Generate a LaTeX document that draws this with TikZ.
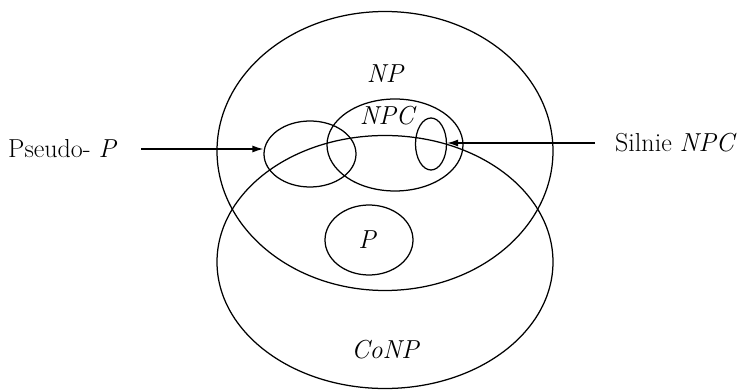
\documentclass[tikz,border=0pt]{standalone}
\usepackage{tikz}
\usetikzlibrary{arrows.meta, shapes.geometric}

\begin{document}
\begin{tikzpicture}[
  x=1pt, y=-1pt,
  set/.style={draw, ellipse, line width=1.25pt, inner sep=0pt},
  lbl/.style={font=\fontsize{26}{30}\selectfont\itshape},
  side/.style={font=\fontsize{26}{30}\selectfont, inner sep=2pt},
  arrow/.style={-{Latex[length=11pt, width=7pt]}, line width=1.25pt}
]
  \useasboundingbox (0,0) rectangle (756,390);

  % the two big classes
  \node[set, minimum width=336pt, minimum height=279pt] (np) at (385,151) {};
  \node[set, minimum width=336pt, minimum height=253pt] (conp) at (385,262) {};

  % the smaller sets
  \node[set, minimum width=136pt, minimum height=92pt] (npc) at (395,145) {};
  \node[set, minimum width=92pt, minimum height=66pt] (pseudoset) at (310,154) {};
  \node[set, minimum width=31pt, minimum height=52pt] (strong) at (431,144) {};
  \node[set, minimum width=88pt, minimum height=70pt] (p) at (369,240) {};

  % names of the sets
  \node[lbl] (nplbl) at (385,74) {NP};
  \node[lbl] (npclbl) at (387,116) {NPC};
  \node[lbl] (plbl) at (367,240) {P};
  \node[lbl] (conplbl) at (385,350) {CoNP};

  % side labels
  \node[side, anchor=west] (pseudo) at (6,149) {Pseudo- \textit{P}};
  \node[side, anchor=west] (silnie) at (613,143) {Silnie \textit{NPC}};

  \draw[arrow] (pseudo.east) ++(22,0) coordinate (ps) (ps) -- (pseudoset.west |- ps);
  \draw[arrow] (silnie.west) ++(-18,0) coordinate (sl) (sl) -- (strong.east |- sl);
\end{tikzpicture}
\end{document}
